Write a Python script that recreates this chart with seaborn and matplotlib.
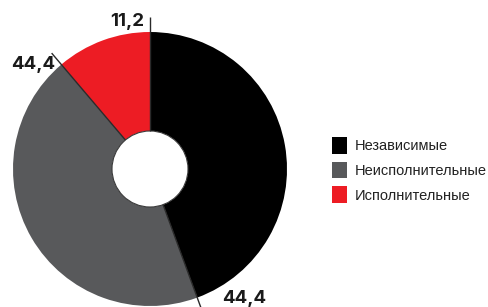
import numpy as np
import matplotlib
matplotlib.use("Agg")
import matplotlib.pyplot as plt
from matplotlib.patches import Circle, Patch
import seaborn as sns

categories = ["Независимые", "Неисполнительные", "Исполнительные"]
values = [44.4, 44.4, 11.2]
value_labels = ["44,4", "44,4", "11,2"]
colors = ["#000000", "#58595b", "#ed1c24"]

sns.set_theme(style="white")
plt.rcParams["font.family"] = ["Liberation Sans", "DejaVu Sans"]

W, H = 489, 307
fig = plt.figure(figsize=(W / 100, H / 100), dpi=100)
ax = fig.add_axes([0, 0, 1, 1])

cx, cy = 150, 138
R, r_hole, r_line = 137, 38, 152

wedges, _ = ax.pie(values, colors=colors, startangle=90, counterclock=False,
                   radius=R, center=(cx, cy), frame=True,
                   wedgeprops=dict(width=R - r_hole, linewidth=0))
ax.set_xlim(0, W)
ax.set_ylim(0, H)
ax.set_aspect("equal")
ax.axis("off")

ax.add_patch(Circle((cx, cy), r_hole, facecolor="white", edgecolor="#3a3a3a",
                    linewidth=0.8, zorder=3))

# boundary / leader lines at the end of each wedge
cum = np.cumsum(values) / np.sum(values)
offsets = [(20, 13, "left"), (4, -11, "right"), (-6, -4, "right")]
for frac, lab, (dx, dy, ha) in zip(cum, value_labels, offsets):
    ang = np.deg2rad(90 - 360 * frac)
    x0, y0 = cx + r_hole * np.cos(ang), cy + r_hole * np.sin(ang)
    x1, y1 = cx + r_line * np.cos(ang), cy + r_line * np.sin(ang)
    ax.plot([x0, x1], [y0, y1], color="#2a2a2a", linewidth=1.0, zorder=4,
            solid_capstyle="butt")
    ax.text(x1 + dx, y1 + dy, lab, ha=ha, va="center", fontsize=13.5,
            fontweight="bold", family=["Inter", "DejaVu Sans"], color="#1a1a1a",
            zorder=5)

handles = [Patch(facecolor=c, edgecolor="none") for c in colors]
leg = ax.legend(handles, categories, loc="center left",
                bbox_to_anchor=(332 / W, 1 - 170 / H), bbox_transform=fig.transFigure,
                frameon=False, fontsize=10.5, handlelength=1.05, handleheight=1.4,
                handletextpad=0.5, labelspacing=0.55, borderpad=0, borderaxespad=0)
for t in leg.get_texts():
    t.set_color("#222222")

fig.savefig("out.png", dpi=100)
